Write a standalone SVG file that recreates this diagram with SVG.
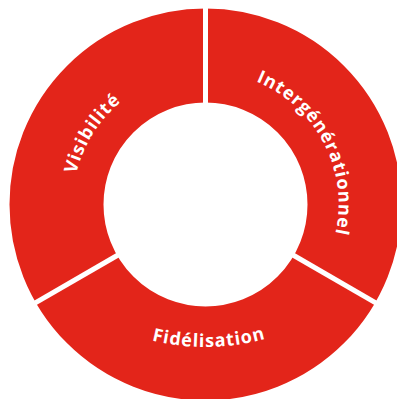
<svg xmlns="http://www.w3.org/2000/svg" xmlns:xlink="http://www.w3.org/1999/xlink" width="397" height="399" viewBox="0 0 397 399">
  <style>
    .ring { fill: none; stroke: #E3251A; stroke-width: 94; }
    .gap { stroke: #FFFFFF; stroke-width: 5; }
    .lbl { font-family: "Open Sans", "Liberation Sans", sans-serif; font-weight: 700; font-size: 18px; fill: #FFFFFF; letter-spacing: 0.9px; }
  </style>
  <defs>
    <path id="pVis" d="M 88.1 266.9 A 133 133 0 0 1 210.1 71.6"/>
    <path id="pInt" d="M 162.2 78.7 A 133 133 0 0 1 289.2 307.9"/>
    <path id="pFid" d="M 85.5 312.3 A 225 225 0 0 0 325.5 312.3"/>
  </defs>
  <rect width="397" height="399" fill="#FFFFFF"/>
  <g id="ring">
    <circle class="ring" cx="205.5" cy="204.5" r="149"/>
  </g>
  <g id="connectors">
    <line class="gap" x1="205.5" y1="104.5" x2="205.5" y2="2"/>
    <line class="gap" x1="292.1" y1="254.5" x2="380.9" y2="305.8"/>
    <line class="gap" x1="118.9" y1="254.5" x2="30.1" y2="305.8"/>
  </g>
  <g id="visibilite">
    <text class="lbl"><textPath xlink:href="#pVis" href="#pVis" startOffset="50%" text-anchor="middle">Visibilité</textPath></text>
  </g>
  <g id="intergenerationnel">
    <text class="lbl"><textPath xlink:href="#pInt" href="#pInt" startOffset="51%" text-anchor="middle">Intergénérationnel</textPath></text>
  </g>
  <g id="fidelisation">
    <text class="lbl"><textPath xlink:href="#pFid" href="#pFid" startOffset="51.4%" text-anchor="middle">Fidélisation</textPath></text>
  </g>
</svg>
